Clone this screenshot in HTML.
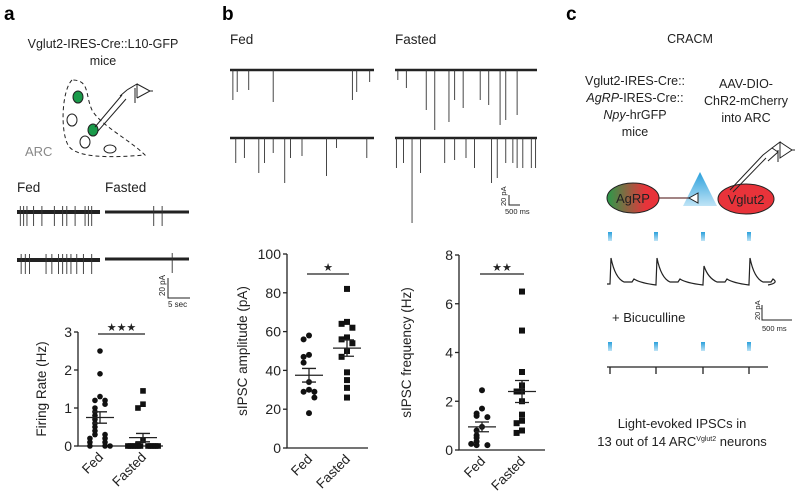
<!DOCTYPE html>
<html><head><meta charset="utf-8">
<style>
body{margin:0;background:#fff;}
svg{display:block;font-family:"Liberation Sans",Arial,sans-serif;}
</style></head>
<body>
<svg id="fig" width="800" height="495" viewBox="0 0 800 495">
  <text x="4" y="20" font-size="19" font-weight="bold">a</text>
  <text x="222" y="20" font-size="19" font-weight="bold">b</text>
  <text x="566" y="20" font-size="19" font-weight="bold">c</text>

  <g font-size="12.5" fill="#222">
    <text x="103" y="48" text-anchor="middle">Vglut2-IRES-Cre::L10-GFP</text>
    <text x="103" y="65" text-anchor="middle">mice</text>
    <path d="M72,80 C62,90 60,130 68,145 C75,158 110,158 145,155 C130,140 100,125 92,110 C85,95 90,80 72,80 Z" fill="none" stroke="#222" stroke-dasharray="4,3"/>
    <text x="25" y="156" fill="#888" font-size="13">ARC</text>
    <ellipse cx="78" cy="97" rx="5" ry="6" fill="#1a9a4a" stroke="#222"/>
    <ellipse cx="93" cy="130" rx="5" ry="6" fill="#1a9a4a" stroke="#222"/>
    <ellipse cx="72" cy="120" rx="5" ry="6" fill="none" stroke="#222"/>
    <ellipse cx="85" cy="142" rx="5" ry="6" fill="none" stroke="#222"/>
    <ellipse cx="110" cy="149" rx="6" ry="4" fill="none" stroke="#222"/>
    <path d="M95,127 L122,95 M98,131 L126,99 M120,96 L127,90 M127,90 L137,84 L137,98 M137,84 L150,91 L137,98 M135,88 L135,103 M150,91 L153,91" fill="none" stroke="#222"/>
    <text x="17" y="192" font-size="13.5">Fed</text>
    <text x="105" y="192" font-size="13.5">Fasted</text>
    <g id="tracesA"></g>
    <path d="M168,278 L168,298 L190,298" stroke="#222" fill="none"/>
    <text x="165" y="296" font-size="8" transform="rotate(-90 165 296)">20 pA</text>
    <text x="168" y="307" font-size="8">5 sec</text>
  </g>

  <g fill="#222">
    <text x="230" y="44" font-size="13.5">Fed</text>
    <text x="395" y="44" font-size="13.5">Fasted</text>
    <g id="tracesB"></g>
    <path d="M509,195 L509,205 L520,205" stroke="#222" fill="none"/>
    <text x="506" y="206" font-size="7.5" transform="rotate(-90 506 206)">20 pA</text>
    <text x="505" y="214" font-size="7.5">500 ms</text>
  </g>

  <defs>
    <linearGradient id="agrp" x1="0" x2="1"><stop offset="0" stop-color="#2a9a4a"/><stop offset="0.75" stop-color="#e8333a"/></linearGradient>
    <linearGradient id="blue" x1="0" y1="0" x2="0" y2="1"><stop offset="0" stop-color="#2aa0dc"/><stop offset="1" stop-color="#bfe4f6"/></linearGradient>
  </defs>
  <g font-size="12.5" fill="#222" text-anchor="middle">
    <text x="690" y="43">CRACM</text>
    <text x="635" y="85">Vglut2-IRES-Cre::</text>
    <text x="635" y="102"><tspan font-style="italic">AgRP</tspan>-IRES-Cre::</text>
    <text x="635" y="119"><tspan font-style="italic">Npy</tspan>-hrGFP</text>
    <text x="635" y="136">mice</text>
    <text x="746" y="88">AAV-DIO-</text>
    <text x="746" y="105">ChR2-mCherry</text>
    <text x="746" y="122">into ARC</text>
    <path d="M700,172 L683,206 L717,206 Z" fill="url(#blue)"/>
    <line x1="657" y1="198" x2="690" y2="198" stroke="#6b3a3a" stroke-width="1.3"/>
    <path d="M698,193 L689,198 L698,203 Z" fill="#fff" stroke="#222"/>
    <ellipse cx="633" cy="198" rx="26" ry="15" fill="url(#agrp)" stroke="#222"/>
    <text x="633" y="203" font-size="13">AgRP</text>
    <ellipse cx="746" cy="199" rx="28" ry="15" fill="#e8333a" stroke="#222"/>
    <text x="746" y="204" font-size="13">Vglut2</text>
    <path d="M730,190 L763,155 M733,192 L766,158 M763,155 L772,148 L778,152 L768,161 M772,148 L780,142 L780,158 L792,150 L780,142 M778,150 L778,162 M792,150 L795,150" fill="none" stroke="#222"/>
    <g id="tracesC"></g>
    <text x="612" y="322" text-anchor="start" font-size="13">+ Bicuculline</text>
    <path d="M762,305 L762,320 L792,320" stroke="#222" fill="none"/>
    <text x="760" y="320" font-size="7.5" transform="rotate(-90 760 320)" text-anchor="start">20 pA</text>
    <text x="762" y="331" font-size="7.5" text-anchor="start">500 ms</text>
    <text x="682" y="428" font-size="13">Light-evoked IPSCs in</text>
    <text x="682" y="446" font-size="13">13 out of 14 ARC<tspan font-size="7" dy="-5">Vglut2</tspan><tspan dy="5"> neurons</tspan></text>
  </g>

  <g id="charts"></g>
</svg>
<script>
const groups = ['Fed', 'Fasted'];
const firingFed = [2.5,1.9,1.3,1.2,1.2,1.1,1.0,0.9,0.8,0.7,0.6,0.5,0.4,0.3,0.3,0.2,0.2,0.1,0.1,0,0,0];
const firingFasted = [1.45,1.1,1.0,0.15,0.05,0,0,0,0,0,0,0,0,0,0,0];
const firingMean = [0.75, 0.22];
const firingSem = [0.15, 0.11];
const firingTicks = [0,1,2,3];
const ampFed = [58,56,48,47,44,34,30,29,29,26,18];
const ampFasted = [82,65,64,62,57,56,54,50,47,39,35,31,26];
const ampMean = [37.5, 51.5];
const ampSem = [3.5, 4.2];
const ampTicks = [0,20,40,60,80,100];
const freqFed = [2.45,1.7,1.5,1.4,1.35,0.95,0.8,0.6,0.5,0.35,0.2,0.2,0.25];
const freqFasted = [6.5,4.9,3.2,2.65,2.4,2.4,2.0,1.45,1.2,1.1,0.8,0.7];
const freqMean = [0.95, 2.4];
const freqSem = [0.2, 0.45];
const freqTicks = [0,2,4,6,8];

const NS='http://www.w3.org/2000/svg';
function mk(tag, attrs, parent){const e=document.createElementNS(NS,tag);for(const k in attrs)e.setAttribute(k,attrs[k]);parent.appendChild(e);return e;}
const jit=[0,-1,1,-2,2,-3,3,-1.5,1.5,-2.5,2.5,-0.5,0.5];

function chart(cfg){
  const g=mk('g',{},document.getElementById('charts'));
  
  
  const top=cfg.ticks[cfg.ticks.length-1];
  const y=v=>cfg.y0-(v-cfg.ticks[0])/(top-cfg.ticks[0])*(cfg.y0-cfg.y1);
  const ax=mk('path',{d:`M${cfg.x0},${y(top)} L${cfg.x0},${cfg.y0} L${cfg.xe},${cfg.y0}`,stroke:'#222',fill:'none','stroke-width':1.3},g);
  
  
  cfg.ticks.forEach(t=>{
    const tl=mk('line',{x1:cfg.x0-4,x2:cfg.x0,y1:y(t),y2:y(t),stroke:'#222','stroke-width':1.3},g);
    
    
    const tx=mk('text',{x:cfg.x0-6,y:y(t)+5,'text-anchor':'end','font-size':14,fill:'#222'},g);
    tx.textContent=t;
    
    
  });
  const my=(cfg.y0+y(top))/2;
  const yl=mk('text',{x:cfg.lx,y:my,'text-anchor':'middle','font-size':13.5,fill:'#222',transform:`rotate(-90 ${cfg.lx} ${my})`},g);
  yl.textContent=cfg.label;
  
  
  [cfg.fed,cfg.fasted].forEach((arr,gi)=>{
    const cx=cfg.gx[gi];
    const used=[];
    arr.forEach(v=>{
      const py=y(v);
      const n=used.filter(p=>Math.abs(p-py)<cfg.r*2).length;
      used.push(py);
      const off=jit[n%jit.length]*cfg.r*1.8;
      let m;
      if(gi===0){m=mk('circle',{cx:cx+off,cy:py,r:cfg.r,fill:'#111'},g);}
      else{m=mk('rect',{x:cx+off-cfg.r,y:py-cfg.r,width:cfg.r*2,height:cfg.r*2,fill:'#111'},g);}
      
      
    });
    const mn=cfg.mean[gi], se=cfg.sem[gi];
    const ml=mk('path',{d:`M${cx-14},${y(mn)} L${cx+14},${y(mn)} M${cx},${y(mn-se)} L${cx},${y(mn+se)} M${cx-7},${y(mn-se)} L${cx+7},${y(mn-se)} M${cx-7},${y(mn+se)} L${cx+7},${y(mn+se)}`,stroke:'#222',fill:'none','stroke-width':1.3},g);
    
    
    const xl=mk('text',{x:cx+4,y:cfg.y0+12,'text-anchor':'end','font-size':13.5,fill:'#222',transform:`rotate(-45 ${cx+4} ${cfg.y0+12})`},g);
    xl.textContent=groups[gi];
    
    
  });
  const sb=mk('line',{x1:cfg.gx[0]-2,x2:cfg.gx[1]+2,y1:cfg.sigY,y2:cfg.sigY,stroke:'#222','stroke-width':1.2},g);
  
  
  const st=mk('text',{x:(cfg.gx[0]+cfg.gx[1])/2,y:cfg.sigY-3,'text-anchor':'middle','font-size':11,fill:'#222'},g);
  st.textContent=cfg.stars;
  
  
}
chart({name:'firing-rate-chart',x0:78,xe:163,y0:446,y1:332,ticks:firingTicks,gx:[100,143],fed:firingFed,fasted:firingFasted,mean:firingMean,sem:firingSem,label:'Firing Rate (Hz)',lx:46,sigY:334,stars:'★★★',r:2.8});
chart({name:'sipsc-amplitude-chart',x0:287,xe:368,y0:448,y1:254,ticks:ampTicks,gx:[309,347],fed:ampFed,fasted:ampFasted,mean:ampMean,sem:ampSem,label:'sIPSC amplitude (pA)',lx:247,sigY:274,stars:'★',r:3});
chart({name:'sipsc-frequency-chart',x0:459,xe:545,y0:450,y1:255,ticks:freqTicks,gx:[482,522],fed:freqFed,fasted:freqFasted,mean:freqMean,sem:freqSem,label:'sIPSC frequency (Hz)',lx:411,sigY:274,stars:'★★',r:3});

const aFed1=[0.04,0.08,0.12,0.2,0.3,0.45,0.55,0.6,0.7,0.82,0.86,0.9];
const aFed2=[0.05,0.1,0.15,0.35,0.42,0.5,0.55,0.6,0.65,0.72,0.8,0.9];
const aFas1=[0.58,0.68];
const aFas2=[0.8];
const bFed1=[[0.02,30],[0.05,22],[0.13,20],[0.3,32],[0.85,30],[0.88,22],[0.97,12]];
const bFed2=[[0.04,25],[0.1,20],[0.2,35],[0.24,25],[0.3,15],[0.38,45],[0.42,20],[0.5,18],[0.67,38],[0.74,10],[0.95,20]];
const bFas1=[[0.02,10],[0.08,18],[0.22,40],[0.28,60],[0.38,52],[0.42,30],[0.48,38],[0.6,30],[0.66,35],[0.74,55],[0.78,50],[0.86,45]];
const bFas2=[[0.01,30],[0.06,25],[0.12,85],[0.18,35],[0.35,25],[0.42,22],[0.5,20],[0.56,30],[0.68,45],[0.72,40],[0.78,25],[0.83,25],[0.86,30],[0.9,30],[0.96,30],[0.99,30]];
function trace(parent,x0,x1,yb,spikes,thick,name){
  const g=document.getElementById(parent);
  const b=mk('line',{x1:x0,x2:x1,y1:yb,y2:yb,stroke:'#222','stroke-width':thick},g);
  
  
  let d='';
  spikes.forEach(s=>{const f=Array.isArray(s)?s[0]:s; const x=x0+f*(x1-x0);
    if(Array.isArray(s)) d+=`M${x},${yb} L${x},${yb+s[1]} `; else d+=`M${x},${yb-6} L${x},${yb+14} `;});
  const p=mk('path',{d:d,stroke:'#333','stroke-width':0.9,fill:'none'},g);
  
  
}
trace('tracesA',17,100,212,aFed1,4,'fed-trace-1');
trace('tracesA',17,100,260,aFed2,4,'fed-trace-2');
trace('tracesA',105,189,212,aFas1,3,'fasted-trace-1');
trace('tracesA',105,189,259,aFas2,3,'fasted-trace-2');
trace('tracesB',230,374,70,bFed1,2.5,'b-fed-trace-1');
trace('tracesB',230,374,138,bFed2,2.5,'b-fed-trace-2');
trace('tracesB',395,537,70,bFas1,2.5,'b-fasted-trace-1');
trace('tracesB',395,537,138,bFas2,2.5,'b-fasted-trace-2');

const pulseX=[610,656,703,749];
const evokedAmp=[26,26,18,26];
const gc=document.getElementById('tracesC');
pulseX.forEach(x=>{
  [232,342].forEach(yy=>{const r=mk('rect',{x:x-2,y:yy,width:4,height:9,fill:'url(#blue)'},gc);
    
    });
});
let d='M607,284 ';
pulseX.forEach((x,i)=>{const n=pulseX[i+1]||768; d+=`L${x},284 L${x+1},${284-evokedAmp[i]} Q${x+5},278 ${x+14},282 L${x+22},282 L${x+24},279 Q${x+30},283 ${n},285 `;});
const e1=mk('path',{d:d,stroke:'#222','stroke-width':1.2,fill:'none'},gc);


let d2='M607,367 L768,367 ';
pulseX.forEach(x=>{d2+=`M${x},367 L${x},374 `;});
const e2=mk('path',{d:d2,stroke:'#222','stroke-width':1.3,fill:'none'},gc);


</script>
</body></html>
